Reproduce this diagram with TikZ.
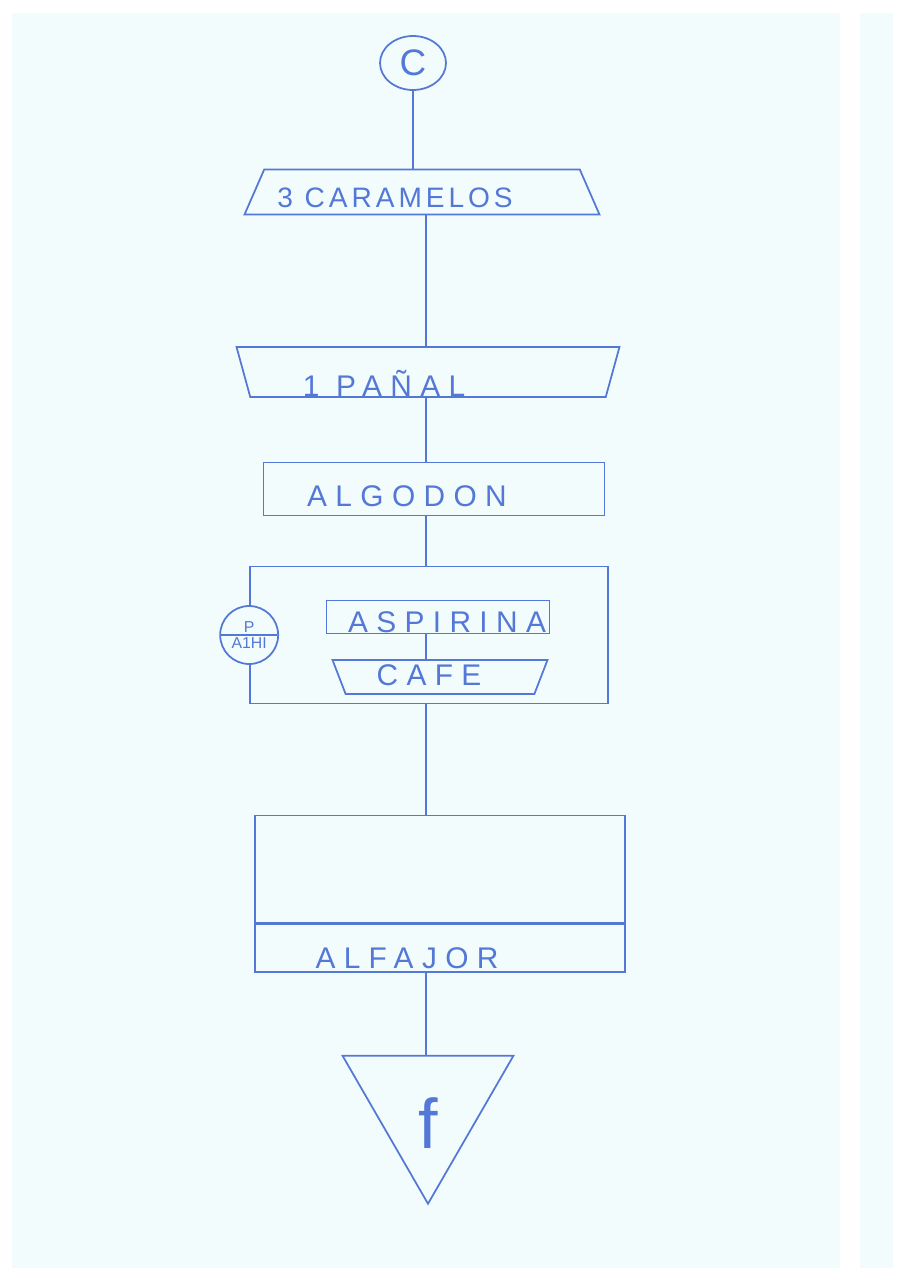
\documentclass[tikz,border=0pt]{standalone}
\usepackage{fontspec}
\setmainfont{Liberation Sans}
\newfontfamily\mano[LetterSpace=28]{Liberation Sans}
\newfontfamily\manoc[LetterSpace=14]{Liberation Sans}
\usetikzlibrary{positioning,shapes.geometric,shapes.multipart}
\definecolor{azul}{RGB}{84,120,214}
\definecolor{fondo}{RGB}{243,252,253}
\newcommand{\ancho}{7.4cm}
\tikzstyle{trazo}=[draw=azul,line width=1pt]
\tikzstyle{caja}=[trazo,rectangle,inner sep=0]
\tikzstyle{trapecio}=[trazo,trapezium,trapezium stretches body=true,inner sep=2pt]
\tikzstyle{letra}=[text=azul,anchor=base,inner sep=0,font=\mano\fontsize{17}{17}\selectfont]
\tikzstyle{linea}=[azul,line width=1pt]

\begin{document}
\begin{tikzpicture}[x=0.02cm,y=-0.02cm]
%fondo
\fill[white] (0,0) rectangle (905,1280);
\fill[fondo] (12,13) rectangle (840,1268);
\fill[fondo] (860,13) rectangle (893,1268);
\useasboundingbox (0,0) rectangle (905,1280);
\coordinate (eje) at (426,0);

%figuras
\node[trazo,ellipse,minimum width=1.32cm,minimum height=1.08cm,inner sep=0,
  text=azul,font=\fontsize{21}{21}\selectfont] (inicio) at (413,63) {C};
\node[trapecio,trapezium angle=55,minimum width=7.1cm,minimum height=0.9cm] (caramelos) at (422,192) {\strut};
\node[trapecio,trapezium angle=64,shape border rotate=180,minimum width=7.66cm,minimum height=1cm] (panal) at (428,372) {\strut};
\node[caja,minimum width=6.82cm,minimum height=1.06cm] (algodon) at (434,489) {};
\node[caja,minimum width=7.16cm,minimum height=2.74cm] (ciclo) at (429,635) {};
\node[trazo,circle split,fill=fondo,minimum size=1.16cm,inner sep=1pt,
  text=azul,font=\fontsize{9}{9}\selectfont] (repite) at (ciclo.west) {P \nodepart{lower} A1HI};
\node[caja,minimum width=4.46cm,minimum height=0.66cm] (aspirina) at (438,617) {};
\node[trapecio,trapezium angle=65,shape border rotate=180,minimum width=4.3cm,minimum height=0.68cm] (cafe) at (440,677) {\strut};
\node[caja,minimum width=\ancho,minimum height=2.14cm] (proceso) at (440,869) {};
\node[caja,minimum width=\ancho,minimum height=0.96cm,below=0pt of proceso] (alfajor) {};
\node[trazo,regular polygon,regular polygon sides=3,shape border rotate=180,
  minimum size=3.95cm,inner sep=0] (fin) at (428,1105) {};

%textos
\node[letra,font=\manoc\fontsize{16}{16}\selectfont] (tcaramelos) at (395,208) {3 CARAMELOS};
\node[letra] (tpanal) at (384,396) {1 PAÑAL};
\node[letra] (talgodon) at (407,506) {ALGODON};
\node[letra] (taspirina) at (447,632) {ASPIRINA};
\node[letra] (tcafe) at (429,685) {CAFE};
\node[letra] (talfajor) at (407,968) {ALFAJOR};
\node[letra,font=\fontsize{40}{40}\selectfont] (tfin) at (428,1148) {f};

%lineas
\draw[linea] (inicio.south) -- (inicio.south |- caramelos.north);
\draw[linea] (eje |- caramelos.south) -- (eje |- panal.north);
\draw[linea] (eje |- panal.south) -- (eje |- algodon.north);
\draw[linea] (eje |- algodon.south) -- (eje |- ciclo.north);
\draw[linea] (eje |- aspirina.south) -- (eje |- cafe.north);
\draw[linea] (eje |- ciclo.south) -- (eje |- proceso.north);
\draw[linea] (eje |- alfajor.south) -- (eje |- fin.north);
\end{tikzpicture}
\end{document}
